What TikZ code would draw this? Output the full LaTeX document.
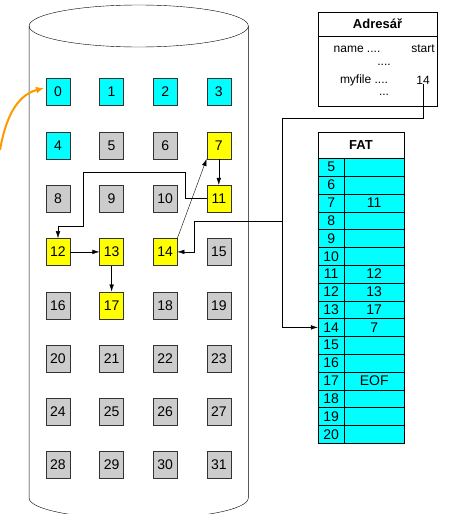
\documentclass[tikz,border=0pt]{standalone}
\usepackage{fontspec}
\setmainfont{Liberation Sans}
\usetikzlibrary{positioning,arrows.meta,calc}

\definecolor{freecyan}{HTML}{00FFFF}
\definecolor{usedyellow}{HTML}{FFFF00}
\definecolor{blockgray}{HTML}{CCCCCC}
\definecolor{pointer}{HTML}{FF9900}

\tikzset{
  block/.style={draw=black!80, minimum width=24, minimum height=27, inner sep=0pt, font=\fontsize{14}{16}\selectfont},
  fatnum/.style={draw, fill=freecyan, minimum width=26.3, minimum height=17.8, inner sep=0pt, font=\fontsize{14}{16}\selectfont},
  fatval/.style={fatnum, minimum width=59.7},
  head/.style={draw, fill=white, inner sep=0pt, font=\fontsize{13}{15}\selectfont\bfseries},
  dirtext/.style={inner sep=0pt, font=\fontsize{12}{14}\selectfont},
  link/.style={->, black}
}

\begin{document}
\begin{tikzpicture}[x=1pt, y=-1pt, >={Latex[length=7pt,width=4.5pt]}]
  \useasboundingbox (0,0) rectangle (457,514);
  \clip (0,0) rectangle (457,514);
  % disk
  \draw (138.7,26) ellipse [x radius=109.6, y radius=21];
  \draw (29.1,26) -- (29.1,498) arc[start angle=180, end angle=0, x radius=109.6, y radius=21] -- (248.3,26);
  % blocks
  \foreach \i in {0,...,31}{
    \pgfmathtruncatemacro\col{mod(\i,4)}
    \pgfmathtruncatemacro\row{int(\i/4)}
    \pgfmathtruncatemacro\used{(\i==7)||(\i==11)||(\i==12)||(\i==13)||(\i==14)||(\i==17)}
    \def\clr{blockgray}
    \ifnum\i<5 \def\clr{freecyan}\fi
    \ifnum\used=1 \def\clr{usedyellow}\fi
    \node[block, fill=\clr] (c\i) at ({58+53.6*\col},{92+53.3*\row}) {\i};
  }
  % chain of myfile
  \draw[link] (c7) -- (c11);
  \draw[link] (c11.west) -| (185,172) -| (83,226) -| (c12.north);
  \draw[link] (c12) -- (c13);
  \draw[link] (c13) -- (c17);
  \draw[link] (c14.north east) -- (c7.south west);
  % directory
  \node[head, minimum width=119, minimum height=24] (dirhead) at (377.5,24) {Adresář};
  \node[draw, fill=white, minimum width=119, minimum height=70, below=0pt of dirhead] (dirbody) {};
  \node[dirtext] (dname) at (357,49) {name ....};
  \node[dirtext] (dstarthead) at (423,49) {start};
  \node[dirtext] at (384,65) {....};
  \node[dirtext] (dfile) at (364,80) {myfile ....};
  \node[dirtext] (dstart) at (423,80) {14};
  \node[dirtext] at (384,95) {...};
  % FAT
  \node[head, minimum width=86, minimum height=26] (fathead) at (361,145) {FAT};
  \foreach \n/\v [count=\k from 0] in {5/,6/,7/11,8/,9/,10/,11/12,12/13,13/17,14/7,15/,16/,17/EOF,18/,19/,20/}{
    \node[fatnum] (f\n) at (331.2,{167.2+17.8*\k}) {\n};
    \node[fatval] (v\n) at (374.2,{167.2+17.8*\k}) {\v};
  }
  % start pointer
  \coordinate (bend) at (282,118);
  \coordinate (split) at (282,221.5);
  \draw (dstart.south) |- (bend);
  \draw[link] (bend) |- (f14.west);
  \draw[link] (split) -- (194,221.5) |- (c14.east);
  % open file
  \draw[->, pointer, line width=2pt, >={Latex[length=8pt,width=7pt]}] (0,150) to[out=80, in=195] (44,88);
\end{tikzpicture}
\end{document}
